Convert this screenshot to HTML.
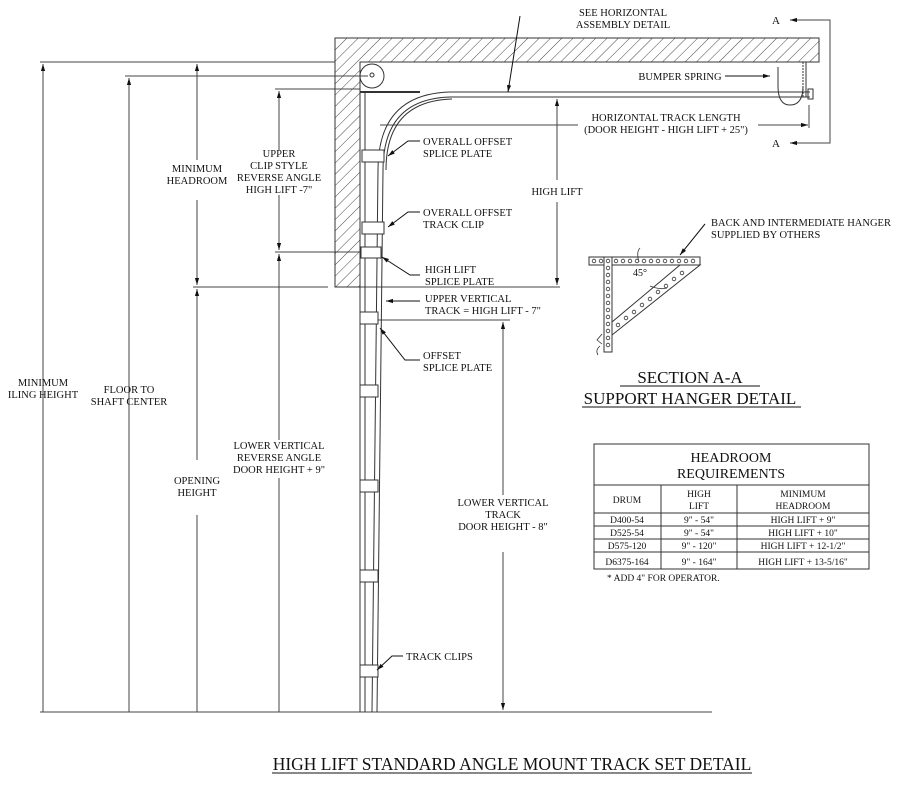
<!DOCTYPE html>
<html><head><meta charset="utf-8"><style>
html,body{margin:0;padding:0;background:#fff;}
svg{display:block;font-family:"Liberation Serif",serif;}
text{fill:#111;}
</style></head><body>
<svg width="900" height="799" viewBox="0 0 900 799" xmlns="http://www.w3.org/2000/svg">
<defs>
<pattern id="h" width="8" height="8" patternUnits="userSpaceOnUse" patternTransform="rotate(45)">
<rect width="8" height="8" fill="#fff"/><line x1="0" y1="0" x2="0" y2="8" stroke="#333" stroke-width="0.9"/>
</pattern>
<marker id="a" viewBox="0 0 10 10" refX="10" refY="5" markerWidth="7" markerHeight="7" orient="auto-start-reverse"><path d="M0,2 L10,5 L0,8 z" fill="#111"/></marker>
</defs>
<path d="M335,38 H819 V62 H360 V287 H335 Z" fill="url(#h)" stroke="#333" stroke-width="1"/>
<g stroke="#444" stroke-width="1" fill="none">
<line x1="40" y1="62" x2="335" y2="62"/>
<line x1="125" y1="76" x2="368" y2="76"/>
<line x1="275" y1="89" x2="360" y2="89"/>
<line x1="275" y1="252" x2="368" y2="252"/>
<line x1="193" y1="287" x2="328" y2="287"/>
<line x1="360" y1="287" x2="560" y2="287"/>
<line x1="40" y1="712" x2="712" y2="712"/>
<line x1="372" y1="320" x2="510" y2="320"/>
<line x1="43" y1="64" x2="43" y2="712" marker-start="url(#a)"/>
<line x1="129" y1="78" x2="129" y2="712" marker-start="url(#a)"/>
<line x1="197" y1="64" x2="197" y2="160" marker-start="url(#a)"/>
<line x1="197" y1="200" x2="197" y2="285" marker-end="url(#a)"/>
<line x1="197" y1="289" x2="197" y2="460" marker-start="url(#a)"/>
<line x1="197" y1="515" x2="197" y2="712"/>
<line x1="279" y1="91" x2="279" y2="150" marker-start="url(#a)"/>
<line x1="279" y1="195" x2="279" y2="250" marker-end="url(#a)"/>
<line x1="279" y1="254" x2="279" y2="440" marker-start="url(#a)"/>
<line x1="279" y1="478" x2="279" y2="712"/>
<line x1="557" y1="99" x2="557" y2="180" marker-start="url(#a)"/>
<line x1="557" y1="202" x2="557" y2="285" marker-end="url(#a)"/>
<line x1="503" y1="322" x2="503" y2="495" marker-start="url(#a)"/>
<line x1="503" y1="552" x2="503" y2="710" marker-end="url(#a)"/>
<line x1="380" y1="125" x2="578" y2="125"/>
<line x1="758" y1="125" x2="808" y2="125" marker-end="url(#a)"/>
<line x1="809" y1="105" x2="809" y2="128"/>
<polyline points="790,20 830,20 830,143 790,143"/>
<line x1="790" y1="20" x2="795" y2="20" marker-start="url(#a)"/>
<line x1="790" y1="143" x2="795" y2="143" marker-start="url(#a)"/>
</g>
<text x="772" y="24" font-size="11">A</text>
<text x="772" y="147" font-size="11">A</text>
<g stroke="#333" fill="none" stroke-width="1">
<circle cx="372" cy="76" r="12"/><circle cx="372" cy="75" r="2"/>
<line x1="360" y1="92" x2="360" y2="712"/>
<line x1="365" y1="92" x2="365" y2="712"/>
<line x1="378" y1="170" x2="372" y2="712"/>
<line x1="383" y1="170" x2="377" y2="712"/>
<path d="M378,170 Q378,94 450,92 H810"/>
<path d="M383,170 Q383,99 450,97 H810"/>
<path d="M386,170 Q386,101 452,99"/>
<line x1="360" y1="92" x2="420" y2="92" stroke-width="2"/>
<rect x="808" y="89" width="5" height="10"/>
<path d="M778,67 V86 Q778,105 790,105 Q803,105 803,86"/>
<line x1="803" y1="62" x2="803" y2="97" stroke-dasharray="2,1"/>
<line x1="806" y1="62" x2="806" y2="97"/>
</g>
<g fill="#fff" stroke="#333">
<rect x="362" y="150" width="22" height="12"/>
<rect x="362" y="222" width="22" height="12"/>
<rect x="361" y="247" width="20" height="11"/>
<rect x="360" y="312" width="18" height="12"/>
<rect x="360" y="385" width="18" height="12"/>
<rect x="360" y="480" width="18" height="12"/>
<rect x="360" y="570" width="18" height="12"/>
<rect x="360" y="665" width="18" height="12"/>
</g>
<g stroke="#111" fill="none">
<line x1="520" y1="16" x2="508" y2="92" marker-end="url(#a)"/>
<line x1="725" y1="76" x2="770" y2="76" marker-end="url(#a)"/>
<polyline points="420,141 408,141 388,156" marker-end="url(#a)"/>
<polyline points="420,212 408,212 388,227" marker-end="url(#a)"/>
<polyline points="420,275 410,275 382,257" marker-end="url(#a)"/>
<line x1="420" y1="301" x2="386" y2="301" marker-end="url(#a)"/>
<polyline points="420,360 405,360 380,328" marker-end="url(#a)"/>
<polyline points="403,656 392,656 377,670" marker-end="url(#a)"/>
<line x1="705" y1="224" x2="680" y2="255" marker-end="url(#a)"/>
</g>
<g font-size="10.5" text-anchor="middle">
<text x="623" y="16">SEE HORIZONTAL</text><text x="623" y="28">ASSEMBLY DETAIL</text>
<text x="680" y="80">BUMPER SPRING</text>
<text x="666" y="121">HORIZONTAL TRACK LENGTH</text>
<text x="666" y="133">(DOOR HEIGHT - HIGH LIFT + 25")</text>
<text x="557" y="195">HIGH LIFT</text>
<text x="197" y="172">MINIMUM</text><text x="197" y="184">HEADROOM</text>
<text x="279" y="157">UPPER</text><text x="279" y="169">CLIP STYLE</text><text x="279" y="181">REVERSE ANGLE</text><text x="279" y="193">HIGH LIFT -7"</text>
<text x="43" y="386">MINIMUM</text><text x="43" y="398">ILING HEIGHT</text>
<text x="129" y="393">FLOOR TO</text><text x="129" y="405">SHAFT CENTER</text>
<text x="197" y="484">OPENING</text><text x="197" y="496">HEIGHT</text>
<text x="279" y="449">LOWER VERTICAL</text><text x="279" y="461">REVERSE ANGLE</text><text x="279" y="473">DOOR HEIGHT + 9"</text>
<text x="503" y="506">LOWER VERTICAL</text><text x="503" y="518">TRACK</text><text x="503" y="530">DOOR HEIGHT - 8"</text>
</g>
<g font-size="10.5">
<text x="423" y="145">OVERALL OFFSET</text><text x="423" y="157">SPLICE PLATE</text>
<text x="423" y="216">OVERALL OFFSET</text><text x="423" y="228">TRACK CLIP</text>
<text x="425" y="273">HIGH LIFT</text><text x="425" y="285">SPLICE PLATE</text>
<text x="425" y="302">UPPER VERTICAL</text><text x="425" y="314">TRACK = HIGH LIFT - 7"</text>
<text x="423" y="359">OFFSET</text><text x="423" y="371">SPLICE PLATE</text>
<text x="406" y="660">TRACK CLIPS</text>
<text x="711" y="226">BACK AND INTERMEDIATE HANGER</text>
<text x="711" y="238">SUPPLIED BY OTHERS</text>
</g>
<g stroke="#333" fill="#fff">
<path d="M612,322 L612,335 L700,265 L680,265 Z"/>
<rect x="589" y="257" width="111" height="8"/>
<rect x="604" y="257" width="8" height="95"/>
</g>
<g fill="none" stroke="#333" stroke-width="0.8">
<circle cx="594" cy="261" r="1.8"/><circle cx="601" cy="261" r="1.8"/><circle cx="616" cy="261" r="1.8"/><circle cx="623" cy="261" r="1.8"/><circle cx="630" cy="261" r="1.8"/><circle cx="637" cy="261" r="1.8"/><circle cx="644" cy="261" r="1.8"/><circle cx="651" cy="261" r="1.8"/><circle cx="658" cy="261" r="1.8"/><circle cx="665" cy="261" r="1.8"/><circle cx="672" cy="261" r="1.8"/><circle cx="679" cy="261" r="1.8"/><circle cx="686" cy="261" r="1.8"/><circle cx="693" cy="261" r="1.8"/>
<circle cx="608" cy="261" r="1.8"/><circle cx="608" cy="268" r="1.8"/><circle cx="608" cy="275" r="1.8"/><circle cx="608" cy="282" r="1.8"/><circle cx="608" cy="289" r="1.8"/><circle cx="608" cy="296" r="1.8"/><circle cx="608" cy="303" r="1.8"/><circle cx="608" cy="310" r="1.8"/><circle cx="608" cy="317" r="1.8"/><circle cx="608" cy="324" r="1.8"/><circle cx="608" cy="331" r="1.8"/><circle cx="608" cy="338" r="1.8"/><circle cx="608" cy="345" r="1.8"/>
<circle cx="618" cy="325" r="1.8"/><circle cx="626" cy="318" r="1.8"/><circle cx="634" cy="312" r="1.8"/><circle cx="642" cy="305" r="1.8"/><circle cx="650" cy="299" r="1.8"/><circle cx="658" cy="292" r="1.8"/><circle cx="666" cy="286" r="1.8"/><circle cx="674" cy="279" r="1.8"/><circle cx="682" cy="273" r="1.8"/>
<path d="M602,334 L597,340 L602,344 M600,346 Q595,350 598,355"/>
<path d="M640,248 Q636,252 639,262 M650,286 Q660,290 667,288"/>
</g>
<text x="633" y="276" font-size="10">45°</text>
<g font-size="17" text-anchor="middle">
<text x="690" y="383">SECTION A-A</text>
<text x="690" y="404">SUPPORT HANGER DETAIL</text>
</g>
<line x1="620" y1="386" x2="760" y2="386" stroke="#111"/>
<line x1="582" y1="407" x2="801" y2="407" stroke="#111"/>
<g stroke="#333" fill="none">
<rect x="594" y="444" width="275" height="125"/>
<line x1="594" y1="485" x2="869" y2="485"/>
<line x1="594" y1="513" x2="869" y2="513"/>
<line x1="594" y1="526" x2="869" y2="526"/>
<line x1="594" y1="539" x2="869" y2="539"/>
<line x1="594" y1="552" x2="869" y2="552"/>
<line x1="661" y1="485" x2="661" y2="569"/>
<line x1="737" y1="485" x2="737" y2="569"/>
</g>
<g text-anchor="middle">
<text x="731" y="462" font-size="14">HEADROOM</text>
<text x="731" y="478" font-size="14">REQUIREMENTS</text>
<g font-size="9.5">
<text x="627" y="503">DRUM</text>
<text x="699" y="497">HIGH</text><text x="699" y="509">LIFT</text>
<text x="803" y="497">MINIMUM</text><text x="803" y="509">HEADROOM</text>
<text x="627" y="523">D400-54</text><text x="699" y="523">9" - 54"</text><text x="803" y="523">HIGH LIFT + 9"</text>
<text x="627" y="536">D525-54</text><text x="699" y="536">9" - 54"</text><text x="803" y="536">HIGH LIFT + 10"</text>
<text x="627" y="549">D575-120</text><text x="699" y="549">9" - 120"</text><text x="803" y="549">HIGH LIFT + 12-1/2"</text>
<text x="627" y="565">D6375-164</text><text x="699" y="565">9" - 164"</text><text x="803" y="565">HIGH LIFT + 13-5/16"</text>
</g>
</g>
<text x="607" y="581" font-size="9.5">* ADD 4" FOR OPERATOR.</text>
<text x="512" y="770" font-size="17.5" text-anchor="middle">HIGH LIFT STANDARD ANGLE MOUNT TRACK SET DETAIL</text>
<line x1="272" y1="773" x2="752" y2="773" stroke="#111"/>
</svg>
</body></html>
